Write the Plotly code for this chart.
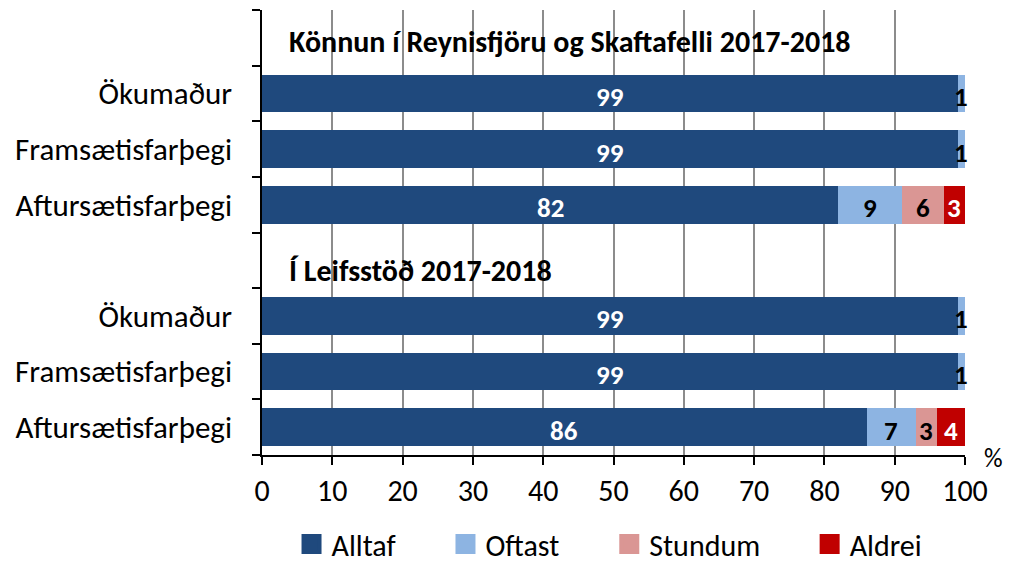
import plotly.graph_objects as go

# ---- data ----
survey_titles = ["Könnun í Reynisfjöru og Skaftafelli 2017-2018", "Í Leifsstöð 2017-2018"]
categories = ["Ökumaður", "Framsætisfarþegi", "Aftursætisfarþegi"]
series_names = ["Alltaf", "Oftast", "Stundum", "Aldrei"]
alltaf = [99, 99, 82, 99, 99, 86]
oftast = [1, 1, 9, 1, 1, 7]
stundum = [0, 0, 6, 0, 0, 3]
aldrei = [0, 0, 3, 0, 0, 4]
x_ticks = [0, 10, 20, 30, 40, 50, 60, 70, 80, 90, 100]

colors = ["#1F497D", "#8DB4E2", "#DA9694", "#C00000"]
label_colors = ["white", "black", "black", "white"]
legend_x = [0.042, 0.261, 0.494, 0.779]
FONT = "Carlito, Lato, 'Open Sans', sans-serif"

# row layout: title row, then 3 category rows, per survey
row_labels = []
bar_rows = []
title_rows = []
r = 0
for t in survey_titles:
    title_rows.append(r)
    row_labels.append("")
    r += 1
    for c in categories:
        bar_rows.append(r)
        row_labels.append(c)
        r += 1
n_rows = r

fig = go.Figure()
all_series = [alltaf, oftast, stundum, aldrei]
legend_ids = ["legend", "legend2", "legend3", "legend4"]
for name, vals, col, lid in zip(series_names, all_series, colors, legend_ids):
    fig.add_trace(go.Bar(
        y=bar_rows, x=vals, name=name, orientation="h",
        marker=dict(color=col, line=dict(width=0)),
        width=0.68, hoverinfo="x+name", legendgroup=name, showlegend=False,
    ))
    # legend swatch (larger square than the default bar swatch)
    fig.add_trace(go.Scatter(
        x=[None], y=[None], mode="markers", name=name, legendgroup=name,
        legend=lid, showlegend=True,
        marker=dict(symbol="square", size=16, color=col, line=dict(color=col, width=4)),
    ))

# value labels
annotations = []
for i, yrow in enumerate(bar_rows):
    cum = 0
    for s, vals in enumerate(all_series):
        v = vals[i]
        if v > 0:
            annotations.append(dict(
                x=cum + v / 2, y=yrow, xref="x", yref="y", yshift=-3,
                text=f"<b>{v}</b>", showarrow=False,
                font=dict(family=FONT, size=27,
                          color=label_colors[s] if v > 1 else "black"),
            ))
        cum += v

for t, yrow, ys in zip(survey_titles, title_rows, [-4, -10]):
    annotations.append(dict(
        x=3.6, y=yrow, xref="x", yref="y", xanchor="left", yshift=ys,
        text=f"<b>{t}</b>", showarrow=False,
        font=dict(family=FONT, size=30, color="black"),
    ))

annotations.append(dict(
    x=1.0, y=0.0, xref="paper", yref="paper", xanchor="center", yanchor="middle",
    xshift=28, yshift=-3,
    text="%", showarrow=False, font=dict(family=FONT, size=26, color="black"),
))

leg_common = dict(orientation="h", xanchor="left", y=-0.2, yanchor="middle",
                  font=dict(family=FONT, size=30), itemwidth=30,
                  bgcolor="rgba(0,0,0,0)")
legends = {}
for lid, lx in zip(legend_ids, legend_x):
    legends[lid] = dict(leg_common, x=lx)

fig.update_layout(
    width=1003, height=557,
    margin=dict(l=254, r=46, t=2, b=110, autoexpand=False),
    barmode="stack",
    bargap=0.32,
    plot_bgcolor="white", paper_bgcolor="white",
    font=dict(family=FONT, size=30, color="black"),
    annotations=annotations,
    **legends,
    xaxis=dict(
        range=[0, 100], tickvals=x_ticks, ticks="outside", ticklen=8,
        tickcolor="black", tickwidth=1.5,
        showline=True, linecolor="black", linewidth=1.5,
        showgrid=True, gridcolor="#8C8C8C", gridwidth=1.5,
        zeroline=False, tickfont=dict(family=FONT, size=30),
        automargin=False,
    ),
    yaxis=dict(
        range=[n_rows - 0.5, -0.5],
        tickvals=list(range(n_rows)), ticktext=row_labels,
        ticks="", ticklen=0, ticklabelstandoff=22,
        minor=dict(tick0=-0.5, dtick=1, ticks="outside", ticklen=8,
                   tickcolor="black", tickwidth=1.5, showgrid=False),
        showline=True, linecolor="black", linewidth=1.5,
        showgrid=False, zeroline=False,
        tickfont=dict(family=FONT, size=31),
        automargin=False,
    ),
)

fig.write_html("out.html")
